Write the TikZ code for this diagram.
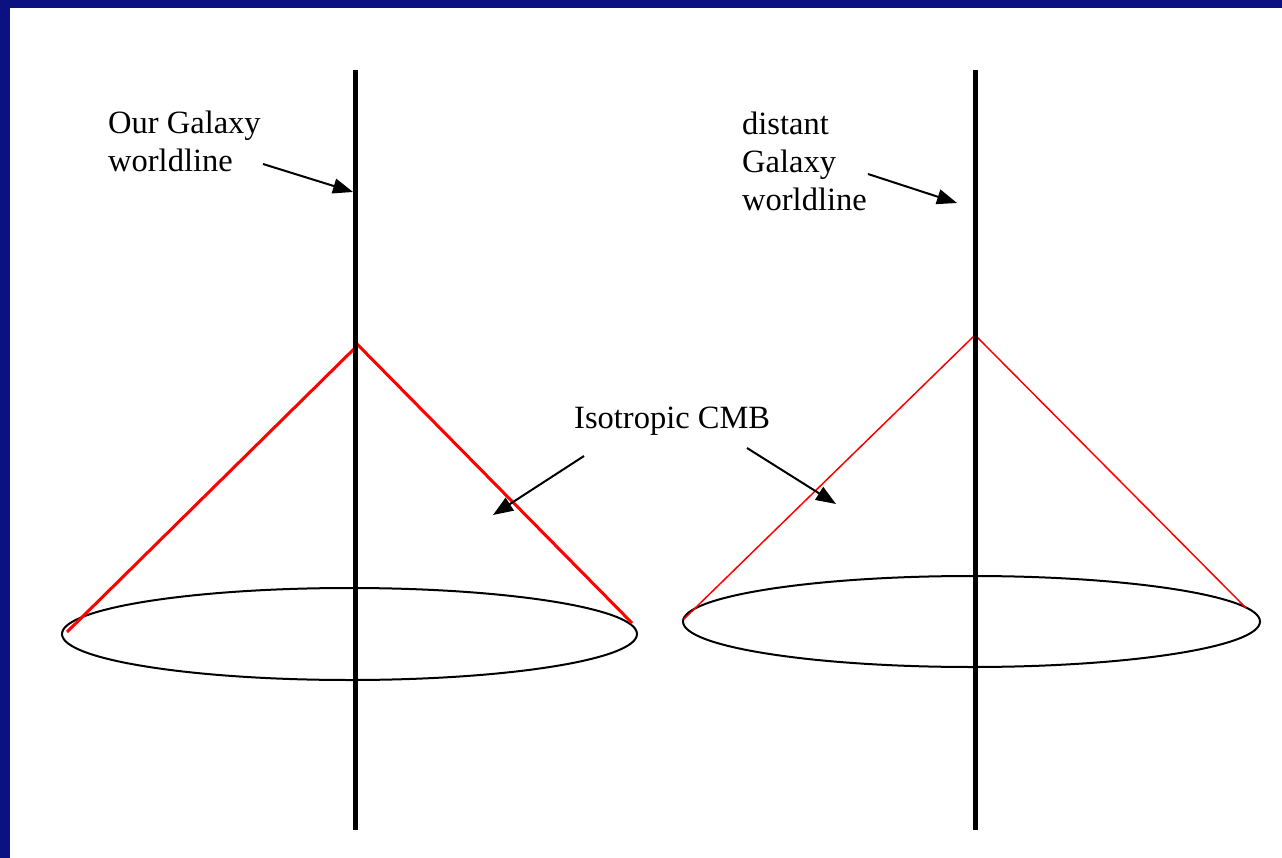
\documentclass[tikz,border=0pt]{standalone}
\usepackage{fontspec}
\setmainfont{Liberation Serif}
\usetikzlibrary{arrows.meta}
\definecolor{navy}{RGB}{11,17,128}
\definecolor{conered}{RGB}{255,0,0}
\tikzset{
  lbl/.style={anchor=base west, inner sep=0pt, font=\fontsize{32.5}{38}\selectfont},
  worldline/.style={line width=4.5pt, black},
  conethick/.style={line width=3pt, conered},
  conethin/.style={line width=1.5pt, conered},
  rim/.style={line width=2pt, black},
  pointer/.style={line width=2pt, black, -{Triangle[length=20pt,width=15pt]}},
}
\begin{document}
\begin{tikzpicture}[x=1pt,y=-1pt]
\useasboundingbox (0,0) rectangle (1282,858);
\fill[white] (0,0) rectangle (1282,858);
\fill[navy] (0,0) rectangle (1282,8);
\fill[navy] (0,0) rectangle (10,858);

% left diagram
\draw[rim] (349.5,634) ellipse [x radius=287.5, y radius=46];
\coordinate (LA) at (358,345);
\coordinate (LL) at (67,632);
\coordinate (LR) at (632,623);
\draw[conethick] (LL) -- (LA) -- (LR);
\coordinate (LT) at (355.5,70);
\coordinate (LB) at (355.5,830);
\draw[worldline] (LT) -- (LB);

% right diagram
\draw[rim] (971.5,621.5) ellipse [x radius=288.5, y radius=45.5];
\coordinate (RA) at (975,335);
\coordinate (RL) at (684,619);
\coordinate (RR) at (1246,608);
\draw[conethin] (RL) -- (RA) -- (RR);
\coordinate (RT) at (975.5,70);
\coordinate (RB) at (975.5,830);
\draw[worldline] (RT) -- (RB);

% labels
\node[lbl] (our1) at (108,134) {Our Galaxy};
\node[lbl] (our2) at (108,172) {worldline};
\node[lbl] (dis1) at (742,135) {distant};
\node[lbl] (dis2) at (742,173) {Galaxy};
\node[lbl] (dis3) at (742,211) {worldline};
\node[lbl] (iso) at (574,428) {Isotropic CMB};

% pointers
\coordinate (p1s) at (263,164);
\coordinate (p1e) at (353,192);
\draw[pointer] (p1s) -- (p1e);
\coordinate (p2s) at (868,174);
\coordinate (p2e) at (957,203);
\draw[pointer] (p2s) -- (p2e);
\coordinate (p3s) at (584,456);
\coordinate (p3e) at (493,515);
\draw[pointer] (p3s) -- (p3e);
\coordinate (p4s) at (747,448);
\coordinate (p4e) at (836,504);
\draw[pointer] (p4s) -- (p4e);
\end{tikzpicture}
\end{document}
